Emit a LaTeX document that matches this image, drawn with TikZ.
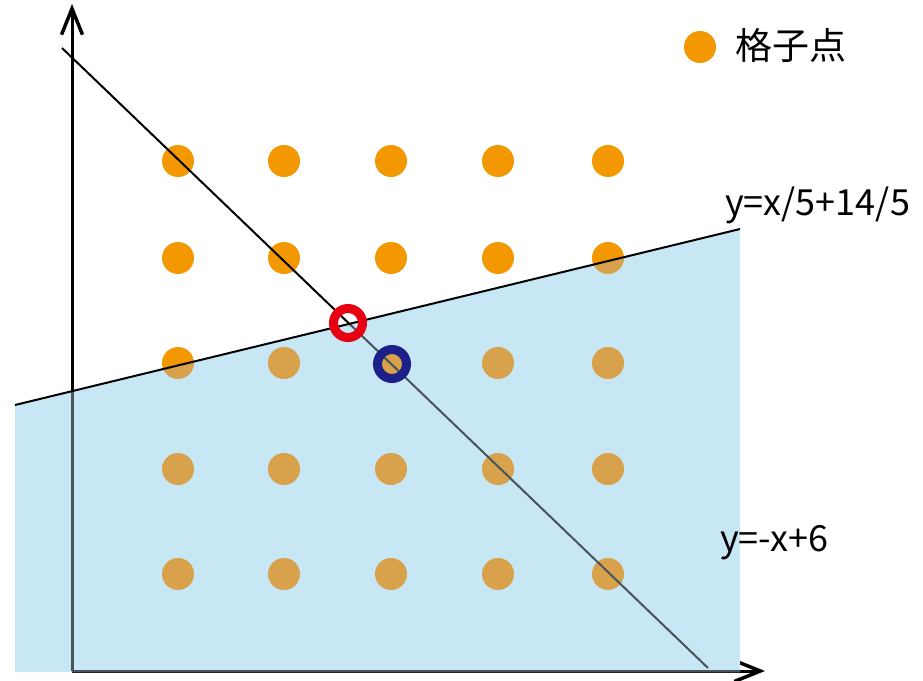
\documentclass[tikz,border=0pt]{standalone}
\usepackage{fontspec}
\setmainfont{Noto Sans CJK JP}
\usetikzlibrary{arrows.meta}
\definecolor{dotorange}{RGB}{243,152,0}
\definecolor{dottan}{RGB}{216,161,76}
\definecolor{regionblue}{RGB}{200,231,244}
\definecolor{undergrey}{RGB}{72,84,92}
\definecolor{ringred}{RGB}{230,0,18}
\definecolor{ringblue}{RGB}{29,32,136}
\tikzset{
  latdot/.style={circle, fill=#1, inner sep=0pt, minimum size=32pt},
  latdot/.default=dotorange,
  ring/.style={circle, draw=#1, line width=9pt, inner sep=0pt, minimum size=29pt},
  axis/.style={line width=3pt, -{Straight Barb[length=26pt,width=21pt,line width=3.5pt]}},
  graphline/.style={line width=2pt},
  lbl/.style={font=\fontsize{36}{40}\selectfont, inner sep=0pt, anchor=base west},
}
\begin{document}
\begin{tikzpicture}[x=1pt,y=-1pt]
\useasboundingbox (0,0) rectangle (923,680);
\def\cols{1/178,2/284,3/391,4/498,5/608}
\def\rows{5/161,4/258,3/363,2/469,1/574}
% lattice points
\foreach \c/\xx in \cols{
  \foreach \r/\yy in \rows{
    \node[latdot] (d\c\r) at (\xx,\yy) {};
  }
}
% line y=-x+6
\coordinate (la) at (62,48);
\coordinate (lb) at (708,668);
\draw[graphline, black] (la) -- (lb);
% axes
\coordinate (o) at (72,671);
\coordinate (ytop) at (72,4);
\coordinate (xend) at (765,671);
\draw[axis] (o) -- (ytop);
\draw[axis] (o) -- (xend);
% region
\coordinate (ra) at (15,405);
\coordinate (rb) at (740,229);
\coordinate (rc) at (740,672);
\coordinate (rd) at (15,672);
\fill[regionblue] (ra) -- (rb) -- (rc) -- (rd) -- cycle;
\begin{scope}
  \clip (ra) -- (rb) -- (rc) -- (rd) -- cycle;
  \foreach \c/\xx in \cols{
    \foreach \r/\yy in \rows{
      \fill[dottan] (\xx,\yy) circle[radius=16pt];
    }
  }
  \draw[graphline, undergrey] (la) -- (lb);
  \draw[line width=3pt, undergrey] (o) -- (ytop);
  \draw[line width=3pt, undergrey] (o) -- (xend);
\end{scope}
\draw[graphline, black] (ra) -- (rb);
% intersection rings
\node[ring=ringred] (redring) at (348,323) {};
\node[ring=ringblue] (bluering) at (392,364) {};
% labels
\node[lbl] (l1) at (725,215) {y=x/5+14/5};
\node[lbl] (l2) at (720,551) {y=-x+6};
% legend
\node[latdot] (legdot) at (700,47) {};
\node[font=\fontsize{37}{40}\selectfont, inner sep=0pt, anchor=west] (legtext) at (735,45) {格子点};
\end{tikzpicture}
\end{document}
